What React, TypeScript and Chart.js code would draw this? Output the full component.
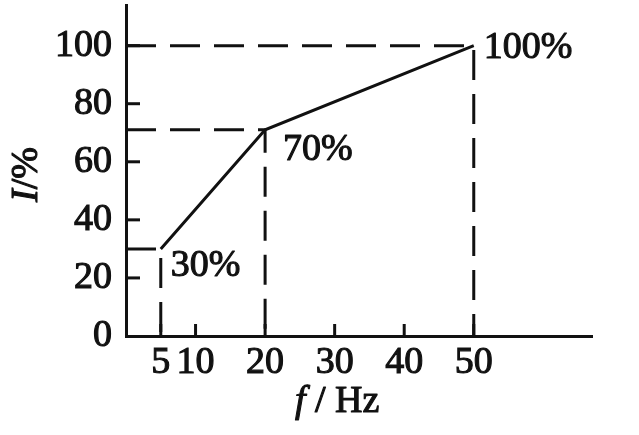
import React, { useEffect, useRef } from "react";
import { Chart, registerables } from "chart.js";

Chart.register(...registerables);

// ---- data ----
const freqs = [5, 20, 50];
const currents = [30, 71, 100];
const pointLabels = ["30%", "70%", "100%"];
const xTicks = [5, 10, 20, 30, 40, 50];
const yTicks = [0, 20, 40, 60, 80, 100];
const X_MAX = 67;
const Y_MAX = 114;

// ---- styles ----
const FONT = '"Liberation Serif", "Times New Roman", serif';
const FONT_SIZE = 38;
const INK = "#111";
const TEXT_STROKE = 1.1;
const labelOffsets = [
  [10, 17],
  [18, 20],
  [10, 2],
];

const drawText = (ctx: any, text: string, x: number, y: number) => {
  ctx.fillText(text, x, y);
  ctx.strokeText(text, x, y);
};

const overlayPlugin = {
  id: "overlay",
  afterDraw(chart: any) {
    const ctx = chart.ctx;
    const xs = chart.scales.x;
    const ys = chart.scales.y;
    const area = chart.chartArea;
    ctx.save();
    ctx.strokeStyle = INK;
    ctx.lineWidth = 3;
    // inward tick marks
    yTicks.forEach((v) => {
      if (v === 0) return;
      const py = ys.getPixelForValue(v);
      ctx.beginPath();
      ctx.moveTo(area.left, py);
      ctx.lineTo(area.left + 14, py);
      ctx.stroke();
    });
    xTicks.forEach((v) => {
      const px = xs.getPixelForValue(v);
      ctx.beginPath();
      ctx.moveTo(px, area.bottom);
      ctx.lineTo(px, area.bottom - 12);
      ctx.stroke();
    });
    // point labels
    ctx.fillStyle = INK;
    ctx.lineWidth = TEXT_STROKE;
    ctx.lineJoin = "round";
    ctx.font = `${FONT_SIZE}px ${FONT}`;
    ctx.textAlign = "left";
    ctx.textBaseline = "middle";
    freqs.forEach((f, i) => {
      const px = xs.getPixelForValue(f);
      const py = ys.getPixelForValue(currents[i]);
      drawText(ctx, pointLabels[i], px + labelOffsets[i][0], py + labelOffsets[i][1]);
    });
    // x title: f / Hz
    const tx = 295;
    const ty = 402;
    ctx.font = `italic ${FONT_SIZE}px ${FONT}`;
    drawText(ctx, "f", tx, ty);
    const fw = ctx.measureText("f").width;
    ctx.font = `${FONT_SIZE}px ${FONT}`;
    drawText(ctx, " / Hz", tx + fw, ty);
    // y title: I/%
    ctx.save();
    ctx.translate(27, 202);
    ctx.rotate(-Math.PI / 2);
    ctx.font = `italic ${FONT_SIZE}px ${FONT}`;
    drawText(ctx, "I", 0, 0);
    const iw = ctx.measureText("I").width;
    ctx.font = `${FONT_SIZE}px ${FONT}`;
    drawText(ctx, "/%", iw, 0);
    ctx.restore();
    ctx.restore();
  },
};

const zeroPad = (s: any) => {
  s.paddingTop = 0;
  s.paddingBottom = 0;
  s.paddingLeft = 0;
  s.paddingRight = 0;
};

export default function App() {
  const ref = useRef<HTMLCanvasElement | null>(null);
  useEffect(() => {
    if (!ref.current) return;
    const mainData = freqs.map((f, i) => ({ x: f, y: currents[i] }));
    const guides = freqs.map((f, i) => ({
      data: [
        { x: 0, y: currents[i] },
        { x: f, y: currents[i] },
        { x: f, y: 0 },
      ],
      showLine: true,
      borderColor: INK,
      borderWidth: 3,
      borderDash: [30, 14],
      pointRadius: 0,
      fill: false,
    }));
    const tickStyle = {
      color: INK,
      font: { family: FONT, size: FONT_SIZE },
      textStrokeColor: INK,
      textStrokeWidth: TEXT_STROKE,
      autoSkip: false,
      callback: (v: any) => String(v),
    };
    const chart = new Chart(ref.current, {
      type: "scatter",
      data: {
        datasets: [
          {
            data: mainData,
            showLine: true,
            borderColor: INK,
            borderWidth: 3,
            pointRadius: 0,
            fill: false,
          },
          ...guides,
        ],
      },
      options: {
        animation: false,
        responsive: false,
        layout: { padding: { top: 5, right: 47, left: 0, bottom: 0 } },
        plugins: {
          legend: { display: false },
          tooltip: { enabled: false },
        },
        scales: {
          x: {
            type: "linear",
            min: 0,
            max: X_MAX,
            afterBuildTicks: (s: any) => {
              s.ticks = xTicks.map((v) => ({ value: v }));
            },
            afterFit: (s: any) => {
              s.height = 99;
              zeroPad(s);
            },
            grid: { display: false, drawTicks: false },
            border: { display: true, color: INK, width: 3 },
            ticks: { ...tickStyle, padding: 4, maxRotation: 0 },
          },
          y: {
            type: "linear",
            min: 0,
            max: Y_MAX,
            afterBuildTicks: (s: any) => {
              s.ticks = yTicks.map((v) => ({ value: v }));
            },
            afterFit: (s: any) => {
              s.width = 126;
              zeroPad(s);
            },
            grid: { display: false, drawTicks: false },
            border: { display: true, color: INK, width: 3 },
            ticks: { ...tickStyle, padding: 14 },
          },
        },
      },
      plugins: [overlayPlugin],
    } as any);
    return () => chart.destroy();
  }, []);
  return (
    <div style={{ position: "fixed", left: 0, top: 0, width: 639, height: 435, background: "#fff" }}>
      <canvas ref={ref} width={639} height={435} />
    </div>
  );
}
